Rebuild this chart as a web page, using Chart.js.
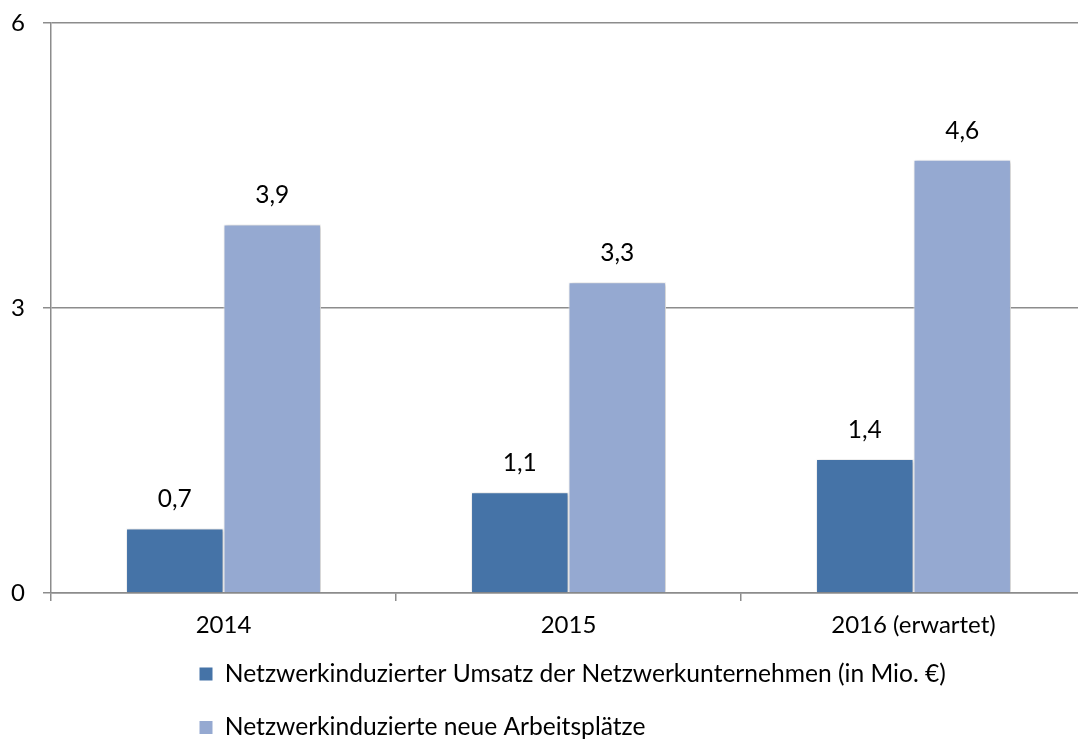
<!DOCTYPE html>
<html>
<head>
<meta charset="utf-8">
<script src="https://cdn.jsdelivr.net/npm/chart.js@4.4.1/dist/chart.umd.min.js"></script>
<style>
  html, body { margin: 0; padding: 0; background: #fff; overflow: hidden; }
  #wrap { width: 1086px; height: 740px; position: relative; }
</style>
</head>
<body>
<div id="wrap"><canvas id="c"></canvas></div>
<script>
// ---- data ----
const categories = ['2014', '2015', '2016 (erwartet)'];
const seriesNames = [
  'Netzwerkinduzierter Umsatz der Netzwerkunternehmen (in Mio. €)',
  'Netzwerkinduzierte neue Arbeitsplätze'
];
const umsatz = [0.68, 1.06, 1.41];
const arbeitsplaetze = [3.88, 3.27, 4.56];
const yTicks = [0, 3, 6];

// ---- styles ----
const DARK = '#4573a7';
const LIGHT = '#95a9d1';
const GRID = '#8c8c8c';
const FONT = 'Lato';
const FS_TICK = 24;
const FS_LABEL = 24.5;
const FS_LEGEND = 24.6;
const LEGEND_PAD = 28.9;
const X_AXIS_H = 48;

const valueLabels = {
  id: 'valueLabels',
  afterDatasetsDraw(chart) {
    const ctx = chart.ctx;
    ctx.save();
    ctx.font = FS_LABEL + 'px ' + FONT;
    ctx.fillStyle = '#000';
    ctx.textAlign = 'center';
    ctx.textBaseline = 'alphabetic';
    chart.data.datasets.forEach((ds, di) => {
      chart.getDatasetMeta(di).data.forEach((bar, i) => {
        const txt = ds.data[i].toFixed(1).replace('.', ',');
        ctx.fillText(txt, bar.x, bar.y - 21);
      });
    });
    ctx.restore();
  }
};

const barShadow = {
  id: 'barShadow',
  beforeDatasetsDraw(chart) {
    const ctx = chart.ctx;
    ctx.save();
    ctx.shadowColor = 'rgba(0,0,0,0.28)';
    ctx.shadowBlur = 4;
    ctx.shadowOffsetX = 1;
    ctx.shadowOffsetY = 1;
  },
  afterDatasetsDraw(chart) {
    chart.ctx.restore();
  }
};

const legendPlace = {
  id: 'legendPlace',
  afterLayout(chart) {
    const l = chart.legend;
    if (!l) return;
    const w = l.right - l.left;
    const itemH = Math.max(FS_LEGEND, 13);
    l.left = chart.chartArea.left + 148.5 - LEGEND_PAD;
    l.right = l.left + w;
    l.top = chart.chartArea.bottom + 81 - LEGEND_PAD - itemH / 2;
    l.bottom = chart.height;
    l.height = l.bottom - l.top;
  }
};

function draw() {
  Chart.defaults.font.family = FONT;
  Chart.defaults.font.size = FS_TICK;
  Chart.defaults.color = '#000';
  new Chart(document.getElementById('c'), {
    type: 'bar',
    data: {
      labels: categories,
      datasets: [
        { label: seriesNames[0], data: umsatz, backgroundColor: DARK, borderColor: '#fff', borderWidth: 1,
          categoryPercentage: 0.565, barPercentage: 1.0 },
        { label: seriesNames[1], data: arbeitsplaetze, backgroundColor: LIGHT, borderColor: '#fff', borderWidth: 1,
          categoryPercentage: 0.565, barPercentage: 1.0 }
      ]
    },
    options: {
      responsive: true,
      maintainAspectRatio: false,
      animation: false,
      layout: { padding: { top: 23, right: 0, left: 0, bottom: 0 } },
      plugins: {
        tooltip: { enabled: false },
        legend: {
          position: 'bottom',
          align: 'start',
          maxHeight: 740 - 593 - X_AXIS_H,
          labels: {
            font: { family: FONT, size: FS_LEGEND },
            color: '#000',
            boxWidth: 13,
            boxHeight: 13,
            padding: LEGEND_PAD,
            generateLabels(chart) {
              return chart.data.datasets.map((ds, i) => ({
                text: ds.label,
                fillStyle: ds.backgroundColor,
                strokeStyle: ds.backgroundColor,
                lineWidth: 0,
                datasetIndex: i,
                hidden: false
              }));
            }
          }
        }
      },
      scales: {
        x: {
          grid: { display: true, drawOnChartArea: false, color: GRID, lineWidth: 1.5, tickLength: 8, offset: true },
          border: { display: true, color: GRID, width: 1.5 },
          ticks: { padding: 10, color: '#000', font: { family: FONT, size: FS_TICK } },
          afterFit(scale) { scale.height = X_AXIS_H; scale.paddingLeft = 0; scale.paddingRight = 0; }
        },
        y: {
          min: 0,
          max: 6,
          afterBuildTicks(scale) { scale.ticks = yTicks.map(v => ({ value: v })); },
          grid: { color: GRID, lineWidth: 1.5, tickLength: 8 },
          border: { display: true, color: GRID, width: 1.5 },
          ticks: { padding: 18, color: '#000', font: { family: FONT, size: FS_TICK } },
          afterFit(scale) { scale.width = 51; scale.paddingTop = 0; scale.paddingBottom = 0; }
        }
      }
    },
    plugins: [barShadow, valueLabels, legendPlace]
  });
}

if (document.fonts && document.fonts.load) {
  document.fonts.load(FS_TICK + 'px ' + FONT).then(draw, draw);
} else {
  draw();
}
</script>
</body>
</html>
